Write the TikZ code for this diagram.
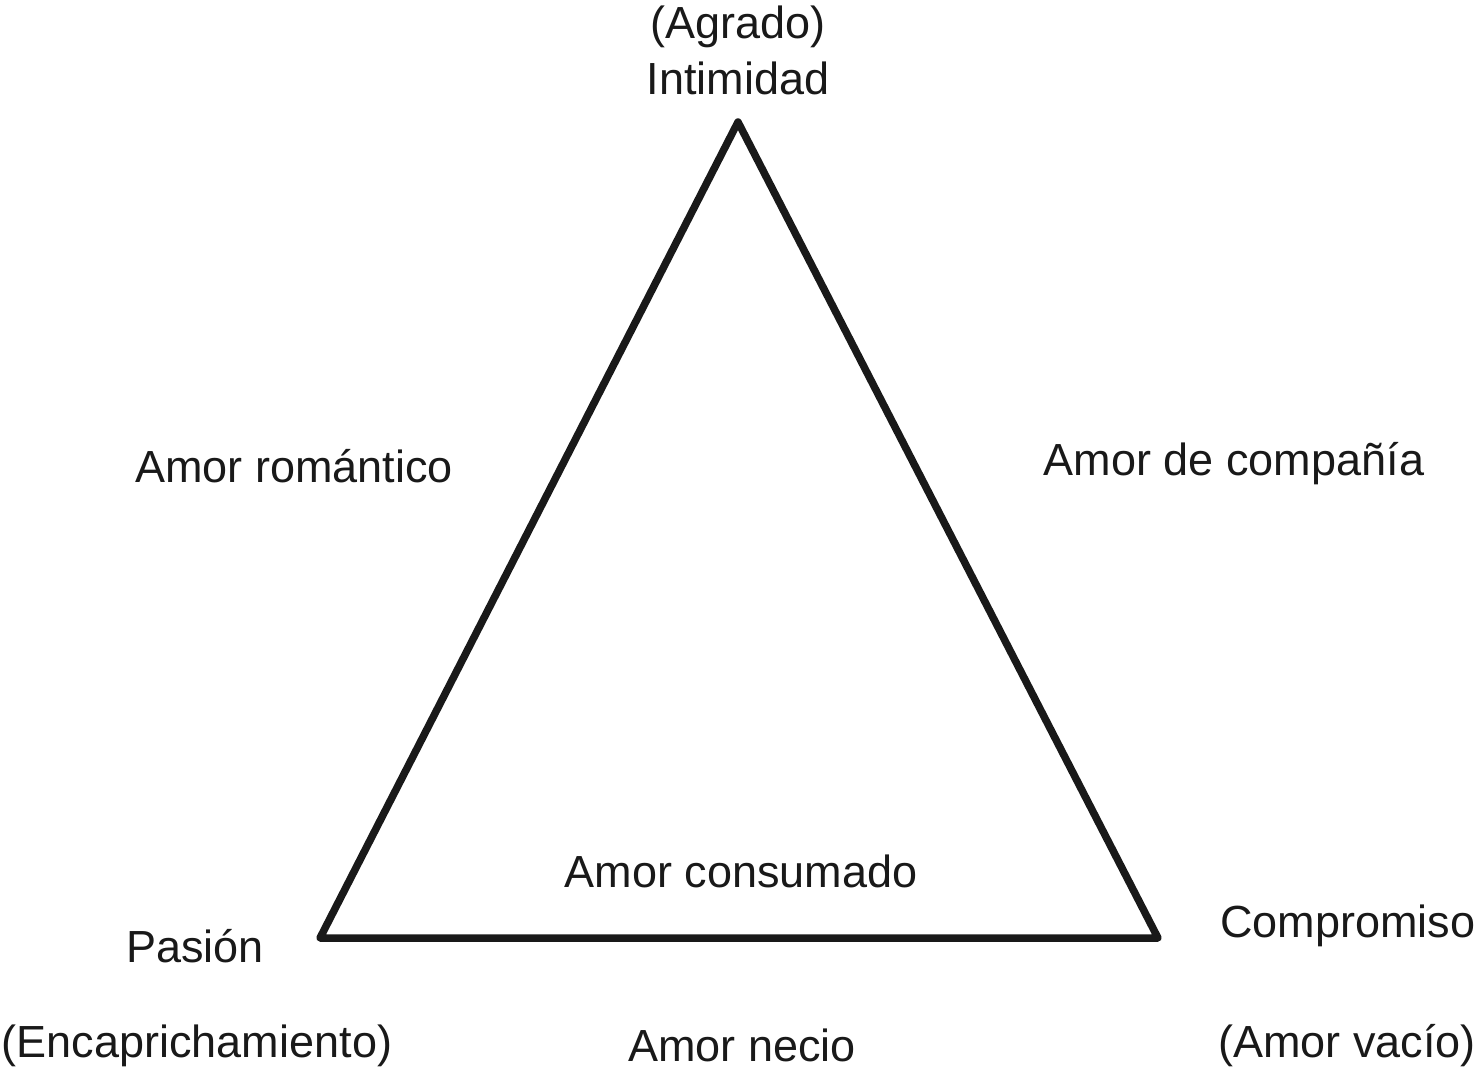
\documentclass[tikz,border=0pt]{standalone}
\usepackage{fontspec}
\setmainfont{Liberation Sans}
\begin{document}
\begin{tikzpicture}[x=1pt,y=-1pt,
  lbl/.style={font=\fontsize{45}{49}\selectfont, inner sep=0pt, text=black!90},
  edge/.style={line width=7.5pt, line join=round, line cap=round, draw=black!90}]
\useasboundingbox (0,0) rectangle (1478,1071);
\coordinate (I) at (738,122);
\coordinate (P) at (320,938);
\coordinate (C) at (1158,938);
\draw[edge] (I) -- (P) -- (C) -- cycle;
\node[lbl] (agr) at (738,27) {(Agrado)};
\node[lbl] (int) at (738,78) {Intimidad};
\node[lbl] (rom) at (294,466) {Amor romántico};
\node[lbl] (comp) at (1234,464) {Amor de compañía};
\node[lbl] (cons) at (741,871) {Amor consumado};
\node[lbl] (pas) at (195,946) {Pasión};
\node[lbl] (compr) at (1348,926) {Compromiso};
\node[lbl] (enc) at (197,1046) {(Encaprichamiento)};
\node[lbl] (nec) at (742,1045) {Amor necio};
\node[lbl] (vac) at (1347,1046) {(Amor vacío)};
\end{tikzpicture}
\end{document}
